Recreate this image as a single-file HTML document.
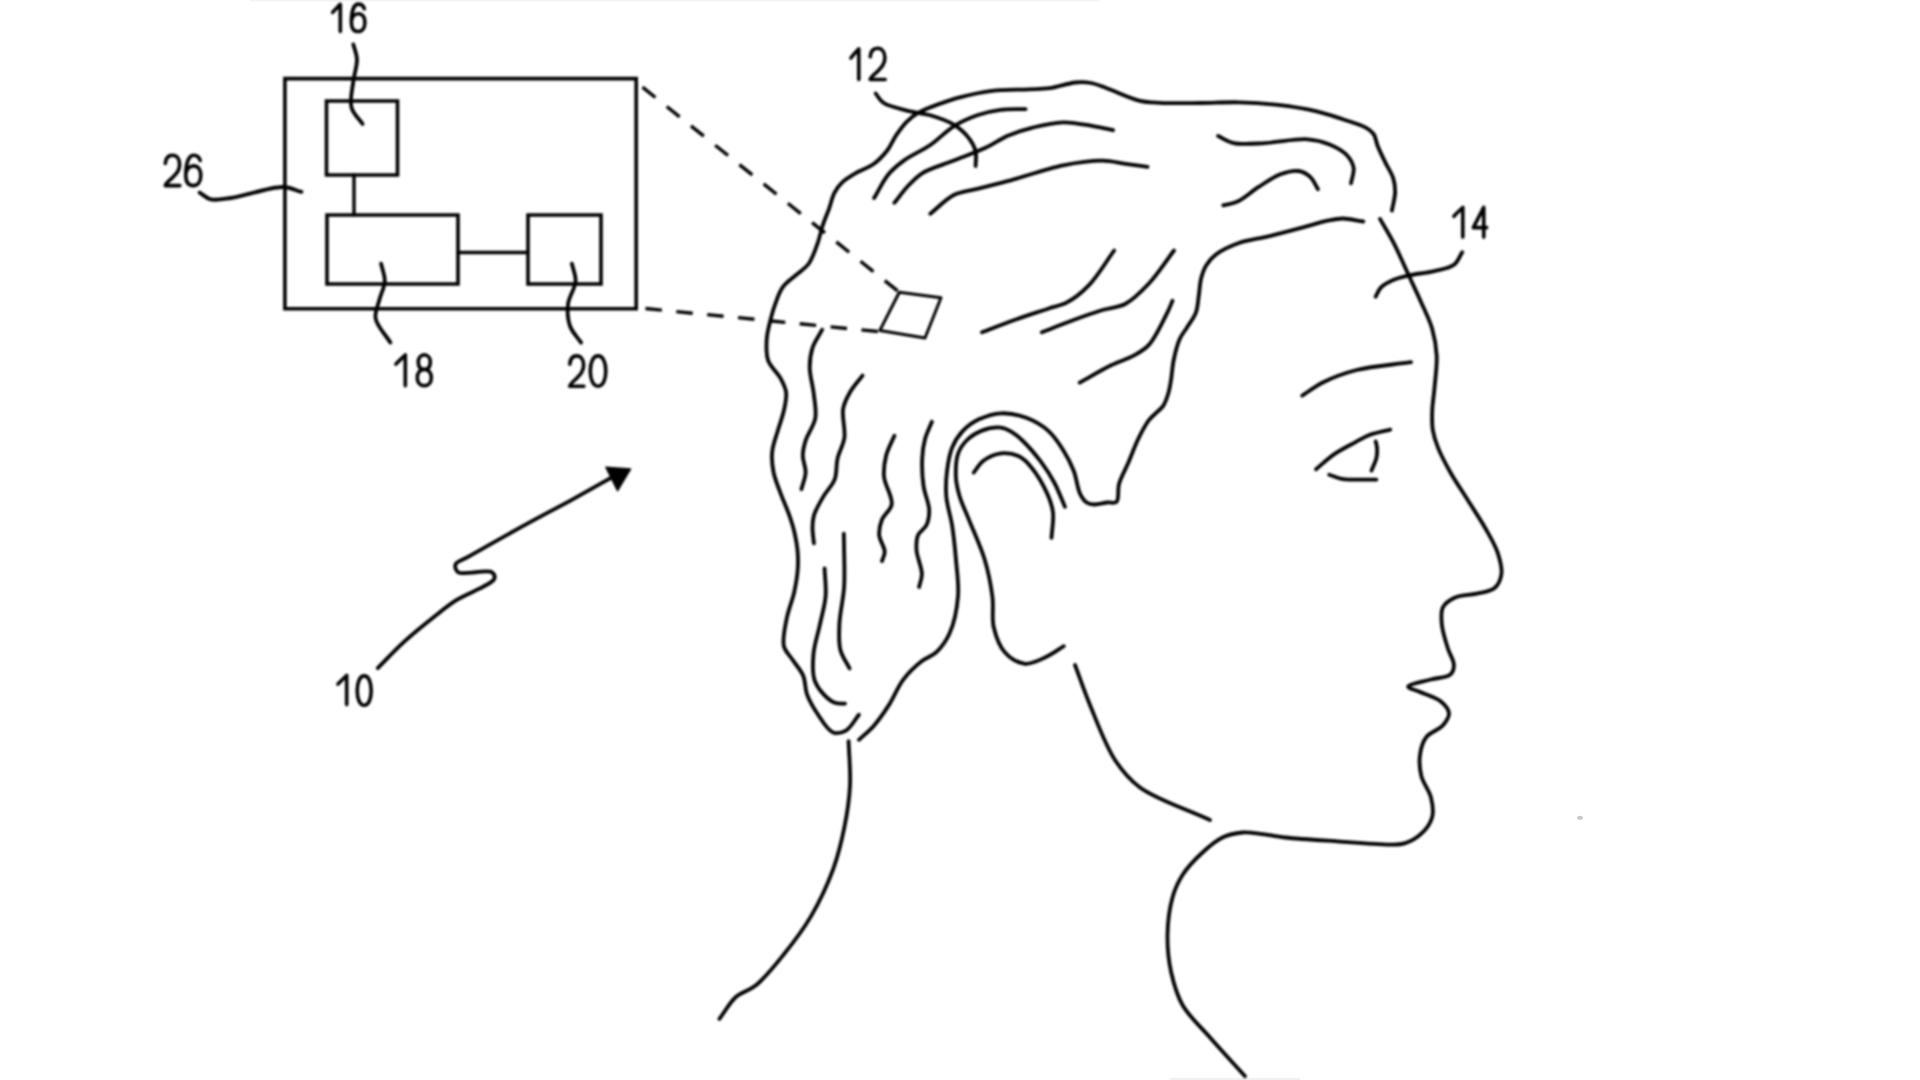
<!DOCTYPE html>
<html><head><meta charset="utf-8"><style>
html,body{margin:0;padding:0;background:#fff;width:1920px;height:1080px;overflow:hidden}
svg{display:block}
body{font-family:"Liberation Sans",sans-serif}

</style></head><body>
<svg width="1920" height="1080" viewBox="0 0 1920 1080">
<defs><filter id="bl" x="-5%" y="-5%" width="110%" height="110%"><feGaussianBlur stdDeviation="1.0"/></filter></defs>
<rect x="0" y="0" width="1920" height="1080" fill="#fff"/>
<rect x="250" y="0" width="850" height="1.5" fill="#f3f3f3"/><rect x="1170" y="1078" width="130" height="2" fill="#f0f0f0"/><ellipse cx="1580" cy="817.7" rx="3" ry="2" fill="#c8c8c8"/>
<g filter="url(#bl)">
<g fill="none" stroke="#000" stroke-linecap="round" stroke-linejoin="round">
<path d="M284.9 78.6L636.2 78.6L636.2 308.7L284.9 308.7Z" stroke-width="3.6" stroke-linejoin="miter"/>
<path d="M326.5 101.0L397.5 101.0L397.5 175.0L326.5 175.0Z" stroke-width="3.6" stroke-linejoin="miter"/>
<path d="M354.0 175.0L354.0 215.0" stroke-width="3.4" />
<path d="M327.0 215.0L458.0 215.0L458.0 284.0L327.0 284.0Z" stroke-width="3.6" stroke-linejoin="miter"/>
<path d="M528.0 215.0L601.0 215.0L601.0 284.0L528.0 284.0Z" stroke-width="3.6" stroke-linejoin="miter"/>
<path d="M458.0 252.5L528.0 252.5" stroke-width="3.4" />
<path d="M353.3 44.4C354.5 49.3 356.8 53.6 357.0 59.0C357.3 65.7 354.2 73.7 353.3 81.5C352.3 89.8 349.5 100.0 351.5 107.4C353.2 113.9 358.9 118.5 362.6 124.0" stroke-width="3.8" />
<path d="M199.6 192.6C203.3 194.8 206.2 198.2 210.7 199.3C216.3 200.7 222.7 199.1 231.0 198.0C244.4 196.2 270.1 186.7 283.0 187.0C290.8 187.2 295.3 190.3 301.5 191.9" stroke-width="3.8" />
<path d="M381.1 263.7C382.3 269.6 385.1 275.5 384.8 281.5C384.5 287.6 380.8 293.8 379.3 300.0C377.8 306.1 374.5 312.2 375.6 318.5C377.0 326.3 385.5 334.6 390.4 342.6" stroke-width="3.8" />
<path d="M571.9 263.7C573.1 269.6 576.0 275.3 575.6 281.5C575.2 288.5 569.0 296.2 568.1 303.7C567.2 311.0 567.7 319.4 570.0 326.0C572.2 332.3 577.4 337.1 581.1 342.6" stroke-width="3.8" />
<path d="M642.5 87.2L899.0 292.0" stroke-width="3.4" stroke-dasharray="16.5 14.5" stroke-linecap="butt"/>
<path d="M637.0 307.7L880.0 331.7" stroke-width="3.4" stroke-dasharray="16.5 14.5" stroke-dashoffset="22.5" stroke-linecap="butt"/>
<path d="M899.3 292.2L941.0 297.8L925.0 338.0L879.9 330.4Z" stroke-width="3" />
<path d="M1391.9 210.6C1393.0 204.5 1395.0 198.1 1395.1 192.4C1395.2 187.4 1394.7 182.9 1393.2 178.2C1391.6 173.0 1388.0 167.9 1385.4 162.6C1382.8 157.1 1379.6 150.9 1377.6 145.7C1375.9 141.5 1375.8 137.2 1373.7 134.1C1371.8 131.3 1369.4 129.6 1365.9 127.6C1360.4 124.4 1350.6 121.8 1342.6 119.2C1334.2 116.4 1326.3 113.6 1316.7 111.4C1305.1 108.7 1290.8 106.4 1277.8 104.9C1264.9 103.4 1251.9 102.6 1238.9 102.3C1225.9 102.0 1213.1 102.9 1200.0 103.0C1186.8 103.1 1171.0 103.4 1160.0 102.8C1152.2 102.4 1147.4 102.5 1140.0 100.8C1130.2 98.5 1115.8 91.4 1106.7 88.2C1100.5 86.0 1096.3 83.9 1091.0 83.0C1085.9 82.1 1081.2 82.0 1075.4 82.5C1067.8 83.2 1057.6 87.1 1049.4 88.2C1042.1 89.2 1036.4 88.9 1028.5 89.3C1018.0 89.8 1003.6 89.4 992.0 90.8C981.1 92.1 970.3 94.6 960.8 97.1C952.6 99.2 945.2 101.8 938.1 104.4C931.5 106.8 924.8 109.1 919.4 112.2C914.6 114.9 910.7 117.9 906.9 121.6C902.8 125.6 899.2 130.8 895.9 135.6C892.8 140.3 891.1 145.4 887.6 150.0C883.7 155.0 878.5 160.6 873.3 164.3C868.5 167.8 862.9 169.1 857.8 172.0C852.5 175.1 846.3 178.6 842.2 182.4C838.8 185.6 836.5 188.8 834.4 192.8C832.0 197.3 831.1 203.0 829.2 208.3C827.2 213.8 824.7 219.4 822.8 225.2C820.8 231.1 819.8 237.1 817.6 243.3C815.2 250.0 812.4 258.6 808.5 264.0C805.2 268.5 800.9 270.7 796.8 274.4C792.3 278.5 786.2 282.3 782.6 287.4C779.0 292.4 777.0 299.2 775.0 304.7C773.2 309.5 772.1 313.5 770.8 318.6C769.3 324.8 767.1 332.4 766.7 339.4C766.3 346.3 765.9 353.9 768.1 360.3C770.4 366.9 777.5 372.5 780.6 378.3C783.2 383.1 785.4 387.2 786.1 392.2C786.8 397.7 785.3 403.9 784.0 410.0C782.6 416.7 779.8 423.8 777.8 430.8C775.8 437.7 772.9 444.7 772.2 451.7C771.5 458.6 772.2 465.7 773.6 472.5C775.0 479.5 778.1 486.4 780.6 493.3C783.2 500.3 786.5 507.4 788.9 514.2C791.1 520.4 793.0 526.2 794.4 532.2C795.8 538.1 796.9 544.0 797.5 550.0C798.1 556.1 798.2 561.9 797.8 568.5C797.3 576.0 795.9 584.5 794.1 592.6C792.2 601.1 788.4 609.6 786.7 618.5C785.0 627.5 782.2 639.0 783.9 646.3C785.2 651.7 789.2 654.7 792.2 659.3C795.6 664.5 800.8 670.0 803.3 675.9C805.7 681.7 804.8 688.3 807.0 694.4C809.5 701.2 813.8 708.5 818.1 714.8C822.4 721.1 827.6 730.3 833.0 732.4C837.1 733.9 842.0 732.8 845.9 730.6C850.8 727.8 854.6 720.1 858.9 714.8" stroke-width="3.8" />
<path d="M875.6 93.4C878.2 96.5 879.6 100.2 883.4 102.8C888.8 106.5 899.0 108.5 906.9 110.6C914.6 112.7 922.6 113.0 930.3 115.3C938.2 117.7 947.1 120.5 953.8 124.7C959.9 128.5 965.7 133.9 969.4 138.8C972.4 142.8 974.6 146.8 975.6 151.3C976.7 155.9 975.6 161.2 975.6 166.1" stroke-width="3.8" />
<path d="M1025.6 109.1C1017.3 109.3 1008.7 108.7 1000.6 109.8C992.6 110.8 984.9 112.6 977.2 115.3C969.3 118.1 961.3 121.6 953.8 126.3C945.7 131.3 938.6 139.3 930.3 145.0C921.9 150.8 911.3 155.1 903.8 160.6C897.6 165.1 892.8 169.0 888.1 174.7C882.8 181.2 878.8 190.3 874.1 198.1" stroke-width="3.8" />
<path d="M1113.1 130.2C1106.9 128.9 1101.5 127.5 1094.4 126.3C1085.3 124.8 1073.5 122.1 1063.1 122.3C1052.7 122.5 1041.5 125.4 1031.9 127.8C1023.4 129.9 1016.1 132.3 1008.4 135.6C1000.4 139.0 993.5 144.2 985.0 148.1C975.5 152.5 964.2 156.4 953.8 160.6C943.4 164.8 930.8 167.9 922.5 173.1C916.0 177.2 911.6 182.2 906.9 187.2C902.3 192.1 898.6 197.6 894.4 202.8" stroke-width="3.8" />
<path d="M1147.5 166.9C1140.2 165.9 1133.0 164.8 1125.6 163.8C1117.9 162.7 1111.0 160.7 1102.2 160.6C1090.8 160.5 1077.1 162.5 1063.1 165.3C1046.3 168.7 1024.1 176.7 1008.4 180.9C996.6 184.1 986.8 186.3 977.2 188.8C968.8 191.0 961.2 191.3 953.8 195.0C945.5 199.2 938.1 207.5 930.3 213.8" stroke-width="3.8" />
<path d="M1218.1 136.0C1223.3 138.4 1227.4 141.7 1233.7 143.1C1242.1 144.9 1253.6 143.6 1264.8 143.1C1277.9 142.5 1295.7 138.5 1307.6 139.3C1316.2 139.9 1322.9 141.7 1329.6 144.4C1335.8 147.0 1342.4 150.5 1346.5 154.8C1350.0 158.5 1352.8 163.1 1353.6 167.8C1354.4 172.6 1351.9 178.1 1351.0 183.3" stroke-width="3.8" />
<path d="M1223.3 205.4C1228.1 204.1 1232.6 203.8 1237.6 201.5C1244.1 198.5 1251.2 191.7 1258.3 187.2C1265.5 182.6 1273.2 177.0 1280.4 174.3C1286.5 172.0 1293.2 170.2 1298.5 171.0C1302.9 171.6 1307.0 174.0 1310.2 176.9C1313.6 180.0 1315.4 185.1 1318.0 189.2" stroke-width="3.8" />
<path d="M1363.3 221.5C1356.4 220.5 1348.8 218.5 1342.5 218.5C1337.1 218.5 1333.1 219.6 1327.7 220.7C1321.0 222.1 1313.8 224.5 1305.5 226.7C1294.7 229.6 1280.2 233.5 1268.5 236.3C1258.1 238.8 1247.9 239.8 1238.9 243.0C1230.8 245.9 1222.3 249.8 1216.6 254.1C1212.1 257.4 1208.9 261.1 1206.3 265.2C1203.8 269.2 1202.3 273.8 1201.1 278.5C1199.8 283.6 1199.7 289.3 1198.9 294.8C1198.0 300.6 1197.9 307.1 1195.9 312.6C1193.9 318.0 1189.9 322.8 1187.0 327.4C1184.4 331.6 1181.7 334.5 1179.6 339.2C1177.0 345.0 1175.1 353.1 1173.7 360.0C1172.3 366.7 1172.0 374.1 1171.0 380.0C1170.2 384.8 1169.7 388.7 1168.4 393.0C1167.1 397.4 1165.4 402.5 1163.2 405.9C1161.4 408.7 1159.0 410.1 1156.7 412.4C1154.2 414.9 1151.5 416.8 1148.9 420.2C1145.4 424.8 1141.8 431.7 1138.5 438.3C1134.8 445.8 1131.6 455.1 1128.2 463.0C1125.1 470.2 1121.0 476.9 1119.1 483.7C1117.3 489.8 1119.4 499.2 1116.5 501.9C1114.5 503.8 1110.7 502.1 1107.4 502.5C1103.5 502.9 1098.2 504.7 1094.5 504.5C1091.6 504.4 1089.0 504.0 1086.7 502.5C1084.1 500.8 1082.1 497.8 1080.2 494.1C1077.4 488.5 1076.6 478.2 1073.7 470.8C1070.9 463.6 1067.5 456.9 1063.4 450.4C1059.2 443.7 1054.6 436.5 1048.6 431.1C1042.4 425.5 1034.2 420.8 1026.3 417.8C1018.4 414.9 1009.2 412.9 1001.1 413.3C993.4 413.6 985.5 416.2 978.9 419.3C972.7 422.2 967.1 426.4 962.6 431.1C958.2 435.8 954.8 441.2 952.2 447.4C949.3 454.3 948.0 463.0 947.0 471.1C946.0 479.3 945.6 487.6 946.3 496.3C947.1 505.8 950.6 515.7 952.2 526.0C953.9 536.9 955.0 548.5 956.0 560.0C957.0 571.9 959.0 584.2 958.0 596.3C957.0 608.6 954.0 623.4 949.6 633.3C946.2 640.9 941.7 647.1 936.7 651.9C932.3 656.1 926.9 657.2 921.9 661.1C915.8 665.9 908.7 672.5 903.3 679.6C897.5 687.2 893.7 697.6 888.5 705.6C883.8 712.9 878.9 720.0 873.7 725.9C869.0 731.2 863.8 735.2 858.9 739.8" stroke-width="3.8" />
<path d="M1380.0 218.9C1384.8 227.4 1389.9 235.5 1394.4 244.4C1399.1 253.6 1403.3 263.7 1407.8 273.3C1412.2 282.9 1416.9 292.7 1421.1 302.2C1425.1 311.2 1429.6 319.8 1432.2 328.9C1434.7 337.7 1436.2 346.2 1436.7 355.6C1437.2 366.1 1435.2 378.9 1434.4 388.9C1433.7 397.1 1432.4 404.0 1432.2 411.1C1432.0 417.6 1431.8 423.9 1432.8 430.0C1433.8 436.0 1435.5 441.4 1438.0 447.6C1441.0 455.2 1445.6 463.8 1450.3 472.2C1455.5 481.4 1462.0 490.9 1467.9 500.3C1473.8 509.7 1480.3 519.3 1485.5 528.5C1490.2 536.9 1495.2 545.0 1497.8 553.1C1500.1 560.2 1502.3 568.0 1501.4 574.2C1500.6 579.5 1498.1 585.1 1494.3 588.3C1490.2 591.8 1482.9 592.1 1476.7 593.6C1469.9 595.2 1461.0 594.8 1455.1 597.5C1450.1 599.8 1445.2 602.9 1443.0 607.2C1440.6 611.7 1441.3 618.0 1441.8 624.1C1442.4 631.5 1445.6 640.9 1447.8 648.2C1449.7 654.4 1454.0 660.3 1453.9 665.1C1453.9 668.8 1452.8 672.4 1450.2 674.7C1446.5 677.9 1437.7 677.6 1431.0 679.5C1423.7 681.6 1408.2 684.3 1408.1 686.7C1408.0 688.4 1414.7 689.7 1418.9 691.6C1424.9 694.3 1435.4 696.9 1440.6 701.2C1444.7 704.6 1448.7 709.2 1449.0 713.3C1449.3 717.2 1446.1 721.6 1443.0 725.3C1439.1 729.8 1429.9 732.2 1426.1 737.3C1422.5 742.0 1421.0 748.1 1420.1 754.2C1419.1 760.9 1419.6 768.8 1421.3 775.9C1423.1 783.3 1429.2 790.4 1431.0 797.6C1432.6 804.1 1433.8 810.9 1432.2 816.9C1430.6 823.0 1426.0 829.3 1421.3 833.7C1416.7 838.1 1410.1 841.7 1404.5 843.4C1399.7 844.9 1396.4 844.5 1390.0 844.6C1377.6 844.7 1352.9 842.5 1335.0 841.2C1317.9 840.1 1298.8 839.0 1285.0 837.5C1275.2 836.4 1267.6 834.6 1260.0 833.8C1253.7 833.0 1248.5 832.0 1242.5 832.5C1236.0 833.1 1228.9 834.5 1222.5 837.5C1215.5 840.8 1208.9 846.6 1202.5 852.5C1195.5 858.9 1187.6 867.1 1182.5 875.0C1177.9 882.2 1174.9 888.8 1172.5 897.5C1169.5 908.2 1167.7 922.5 1167.5 935.0C1167.3 947.5 1168.6 960.6 1171.2 972.5C1173.8 983.9 1176.6 994.7 1182.5 1005.0C1189.0 1016.5 1200.2 1026.3 1210.0 1037.5C1220.9 1049.9 1233.3 1063.3 1245.0 1076.2" stroke-width="3.8" />
<path d="M1302.2 395.6C1309.2 391.1 1315.2 386.2 1323.3 382.2C1332.9 377.4 1344.0 373.2 1356.7 370.0C1372.5 366.0 1393.0 364.8 1411.1 362.2" stroke-width="3.8" />
<path d="M1316.0 469.2C1322.2 464.1 1328.1 458.4 1334.7 453.9C1341.3 449.4 1349.3 445.5 1355.6 442.1C1360.6 439.4 1364.2 437.1 1369.4 435.1C1375.5 432.8 1383.3 431.4 1390.3 429.6" stroke-width="3.8" />
<path d="M1329.2 474.7C1333.4 476.1 1337.7 478.1 1341.7 478.9C1345.3 479.6 1347.9 479.5 1352.1 479.6C1358.5 479.8 1368.3 479.6 1376.4 479.6" stroke-width="3.8" />
<path d="M1375.7 441.4C1376.2 443.7 1376.9 445.8 1377.1 448.3C1377.3 451.3 1377.2 454.7 1376.4 458.1C1375.5 462.1 1373.1 466.4 1371.5 470.6" stroke-width="3.8" />
<path d="M1462.2 252.2C1459.6 256.3 1458.3 261.3 1454.4 264.4C1449.7 268.1 1441.6 269.3 1434.4 271.1C1426.2 273.1 1415.5 273.8 1407.8 275.6C1401.8 277.0 1396.7 278.4 1392.0 280.5C1387.9 282.4 1383.8 284.5 1381.0 287.4C1378.5 290.0 1377.4 293.6 1375.6 296.7" stroke-width="3.8" />
<path d="M1114.2 250.5C1105.8 262.0 1097.8 276.0 1089.0 285.1C1081.9 292.5 1074.4 298.4 1067.0 302.4C1060.8 305.8 1055.3 306.3 1048.1 308.7C1038.6 311.9 1026.1 315.8 1015.1 319.7C1004.0 323.6 993.0 328.1 982.0 332.3" stroke-width="3.8" />
<path d="M1174.0 250.5C1165.6 261.5 1157.7 274.2 1148.9 283.5C1141.3 291.6 1133.6 299.5 1125.2 304.0C1117.8 307.9 1110.0 307.7 1101.6 310.3C1091.8 313.3 1080.4 317.5 1070.2 321.3C1060.5 324.9 1051.3 328.6 1041.8 332.3" stroke-width="3.8" />
<path d="M1172.5 300.8C1170.9 304.5 1170.0 307.2 1167.7 311.8C1163.6 319.9 1155.8 337.3 1148.9 344.9C1144.0 350.3 1139.0 352.6 1133.1 355.9C1126.5 359.5 1119.0 361.4 1111.1 365.3C1101.4 370.0 1090.1 376.9 1079.6 382.7" stroke-width="3.8" />
<path d="M822.2 329.7C819.0 335.7 814.6 341.5 812.5 347.8C810.5 354.0 809.7 360.2 809.7 367.2C809.7 375.6 813.0 386.1 813.9 395.0C814.8 403.1 816.6 410.8 815.3 418.3C813.9 426.0 807.7 433.8 805.6 440.6C803.9 446.0 802.8 450.6 802.8 455.8C802.8 461.2 805.8 467.0 805.6 472.5C805.4 478.1 802.8 483.6 801.4 489.2" stroke-width="3.8" />
<path d="M862.5 375.6C858.3 381.1 853.3 386.4 850.0 392.2C846.9 397.6 844.2 402.4 843.1 408.9C841.7 417.1 845.6 429.1 844.4 437.8C843.3 445.4 839.1 451.6 837.5 458.6C835.9 465.5 837.1 473.1 834.7 479.4C832.4 485.6 827.0 490.2 823.6 496.1C820.0 502.2 815.6 509.7 813.9 515.6C812.6 520.1 812.5 523.7 812.5 528.1C812.5 532.9 813.4 538.2 813.9 543.3" stroke-width="3.8" />
<path d="M894.4 435.7C891.6 442.4 887.8 448.9 886.1 455.8C884.4 462.6 883.4 469.3 884.0 476.7C884.7 485.3 892.9 496.7 891.7 504.4C890.8 510.5 884.0 514.4 881.9 519.7C880.0 524.6 878.8 529.8 879.2 535.0C879.6 540.5 884.6 546.9 884.7 551.7C884.8 555.3 882.9 558.0 882.0 561.1" stroke-width="3.8" />
<path d="M931.9 421.8C929.6 427.6 926.6 433.1 925.0 439.2C923.3 445.4 922.5 451.5 922.2 458.6C921.8 467.0 922.3 477.6 923.6 486.4C924.8 494.6 929.0 503.0 929.2 510.0C929.3 515.6 928.4 521.0 926.4 525.3C924.5 529.2 919.8 531.1 918.1 535.0C916.3 539.2 916.2 544.4 916.5 550.0C916.9 557.1 921.9 567.3 921.9 574.1C921.9 579.1 920.0 582.7 919.1 587.0" stroke-width="3.8" />
<path d="M843.8 533.6C843.9 539.1 844.0 543.4 844.1 550.0C844.2 559.9 844.9 574.7 844.1 587.0C843.3 599.4 839.9 612.8 839.4 624.1C839.0 633.5 838.4 642.3 840.4 650.0C842.2 656.9 846.5 662.3 849.6 668.5" stroke-width="3.8" />
<path d="M824.6 568.5C824.9 577.8 826.4 587.1 825.6 596.3C824.8 605.6 822.0 614.7 820.0 624.1C818.0 633.8 814.4 644.1 813.5 653.7C812.7 662.6 812.2 672.4 814.4 679.6C816.2 685.5 820.0 690.4 823.7 694.4C827.0 698.0 831.0 701.3 834.8 702.8C838.1 704.1 841.6 703.4 845.0 703.7" stroke-width="3.8" />
<path d="M1064.9 506.7C1061.4 498.8 1058.5 490.5 1054.5 483.0C1050.6 475.7 1046.3 469.1 1041.2 462.2C1035.6 454.7 1027.6 445.4 1021.9 440.0C1018.1 436.4 1015.1 434.0 1011.5 431.9C1008.2 430.0 1005.2 428.1 1001.1 427.6C995.7 427.0 987.7 428.4 981.9 430.6C976.4 432.7 971.1 436.1 967.1 440.0C963.3 443.7 960.1 448.0 958.2 453.4C955.9 459.9 955.6 469.6 955.9 477.1C956.2 483.9 957.7 489.8 959.6 496.3C961.7 503.6 965.1 510.0 968.5 518.6C973.1 530.3 980.7 546.4 984.8 560.0C988.6 572.6 991.0 585.6 992.5 597.5C993.8 608.0 991.5 618.2 993.8 627.5C995.9 636.4 999.4 646.4 1005.0 652.5C1010.1 658.1 1018.2 663.0 1025.0 663.8C1031.5 664.4 1038.6 660.4 1045.0 657.5C1051.5 654.6 1057.5 650.0 1063.8 646.2" stroke-width="3.8" />
<path d="M973.7 472.6C976.9 468.7 979.2 463.9 983.4 460.8C988.1 457.3 995.1 454.1 1001.1 453.4C1006.9 452.7 1013.8 453.9 1018.9 456.3C1023.6 458.5 1026.9 462.0 1030.8 466.7C1036.3 473.2 1043.3 485.0 1047.1 493.4C1050.1 500.1 1052.2 505.7 1053.0 512.6C1053.9 520.4 1052.0 529.4 1051.5 537.8" stroke-width="3.8" />
<path d="M848.6 741.1C849.1 755.9 850.7 771.0 850.0 785.6C849.3 799.7 847.2 813.4 844.4 827.2C841.6 841.2 838.4 854.8 833.3 868.9C827.6 884.4 819.7 901.5 811.1 916.1C802.9 930.1 792.9 943.1 783.3 955.0C774.4 966.1 764.6 978.4 755.6 985.6C749.0 990.9 741.9 991.6 736.1 996.7C729.7 1002.4 725.0 1011.5 719.4 1018.9" stroke-width="3.8" />
<path d="M1075.0 665.0C1080.0 678.3 1084.1 690.7 1090.0 705.0C1097.0 722.0 1105.4 745.4 1115.0 760.0C1122.5 771.5 1128.4 779.0 1140.0 787.5C1156.6 799.7 1186.7 809.2 1210.0 820.0" stroke-width="3.8" />
<path d="M377.8 668.1C386.4 659.5 394.5 650.6 403.7 642.2C413.4 633.3 425.4 623.7 434.8 616.3C442.3 610.3 447.3 606.1 455.5 600.7C466.2 593.7 492.3 584.7 494.4 578.7C495.2 576.3 494.0 573.7 491.8 572.2C487.0 568.9 463.0 575.7 458.1 572.2C455.7 570.5 454.6 566.7 455.5 564.4C456.7 561.3 462.5 560.2 468.5 556.7C481.8 549.0 514.4 530.7 533.3 520.4C547.9 512.4 559.1 506.8 572.2 499.6C585.8 492.1 599.9 484.1 613.7 476.3" stroke-width="3.8" />
</g>
<path d="M605.9 467.2L630.5 469L617.6 490.6Z" fill="#000" stroke="#000" stroke-width="1.5" stroke-linejoin="round"/>
<g>
<path d="M332.60 12.47 C335.29 9.21 338.38 6.48 340.30 4.30 L340.30 31.55" fill="none" stroke="#000" stroke-width="3.6" stroke-linecap="round" stroke-linejoin="round"/>
<path d="M364.36 8.77 C363.28 5.47 361.12 4.10 358.42 4.10 C353.43 4.10 351.40 12.88 351.40 22.22 C351.40 28.80 354.10 31.55 358.15 31.55 C362.20 31.55 364.90 28.26 364.90 22.22 C364.90 16.73 362.20 13.71 358.42 13.71 C354.77 13.71 352.21 16.73 351.53 20.57" fill="none" stroke="#000" stroke-width="3.6" stroke-linecap="round" stroke-linejoin="round"/>
<path d="M165.35 163.48 C165.80 157.72 168.80 155.30 172.40 155.30 C176.90 155.30 179.60 159.24 179.60 164.39 C179.60 170.45 176.60 173.48 172.40 177.72 C168.20 181.36 165.20 183.78 165.20 185.60 L179.90 185.60" fill="none" stroke="#000" stroke-width="3.6" stroke-linecap="round" stroke-linejoin="round"/>
<path d="M200.20 160.45 C199.00 156.81 196.60 155.30 193.60 155.30 C188.05 155.30 185.80 165.00 185.80 175.30 C185.80 182.57 188.80 185.60 193.30 185.60 C197.80 185.60 200.80 181.96 200.80 175.30 C200.80 169.24 197.80 165.91 193.60 165.91 C189.55 165.91 186.70 169.24 185.95 173.48" fill="none" stroke="#000" stroke-width="3.6" stroke-linecap="round" stroke-linejoin="round"/>
<path d="M395.90 364.14 C399.19 360.44 402.95 357.36 405.30 354.90 L405.30 385.70" fill="none" stroke="#000" stroke-width="3.6" stroke-linecap="round" stroke-linejoin="round"/>
<path d="M424.30 369.38 C420.10 369.38 418.28 366.30 418.28 361.98 C418.28 357.67 420.80 354.90 424.30 354.90 C427.80 354.90 430.32 357.67 430.32 361.98 C430.32 366.30 428.50 369.38 424.30 369.38 C420.10 369.38 417.30 372.76 417.30 377.69 C417.30 382.62 420.10 385.70 424.30 385.70 C428.50 385.70 431.30 382.62 431.30 377.69 C431.30 372.76 428.50 369.38 424.30 369.38 Z" fill="none" stroke="#000" stroke-width="3.6" stroke-linecap="round" stroke-linejoin="round"/>
<path d="M569.84 364.08 C570.27 358.32 573.17 355.90 576.65 355.90 C581.00 355.90 583.61 359.84 583.61 364.99 C583.61 371.05 580.71 374.08 576.65 378.32 C572.59 381.96 569.69 384.38 569.69 386.20 L583.90 386.20" fill="none" stroke="#000" stroke-width="3.6" stroke-linecap="round" stroke-linejoin="round"/>
<path d="M598.05 355.90 C603.01 355.90 605.80 362.57 605.80 371.05 C605.80 379.53 603.01 386.20 598.05 386.20 C593.09 386.20 590.30 379.53 590.30 371.05 C590.30 362.57 593.09 355.90 598.05 355.90 Z" fill="none" stroke="#000" stroke-width="3.6" stroke-linecap="round" stroke-linejoin="round"/>
<path d="M850.90 58.03 C853.67 54.34 856.83 51.26 858.80 48.80 L858.80 79.55" fill="none" stroke="#000" stroke-width="3.6" stroke-linecap="round" stroke-linejoin="round"/>
<path d="M870.26 56.74 C870.72 50.80 873.80 48.30 877.50 48.30 C882.12 48.30 884.89 52.36 884.89 57.68 C884.89 63.92 881.81 67.05 877.50 71.42 C873.19 75.17 870.11 77.67 870.11 79.55 L885.20 79.55" fill="none" stroke="#000" stroke-width="3.6" stroke-linecap="round" stroke-linejoin="round"/>
<path d="M1453.90 216.31 C1457.02 212.75 1460.58 209.78 1462.80 207.40 L1462.80 237.10" fill="none" stroke="#000" stroke-width="3.6" stroke-linecap="round" stroke-linejoin="round"/>
<path d="M1483.75 237.10 L1483.75 207.40 L1473.30 227.60 L1486.70 227.60" fill="none" stroke="#000" stroke-width="3.6" stroke-linecap="round" stroke-linejoin="round"/>
<path d="M337.90 684.16 C340.98 680.66 344.50 677.74 346.70 675.40 L346.70 704.60" fill="none" stroke="#000" stroke-width="3.6" stroke-linecap="round" stroke-linejoin="round"/>
<path d="M364.20 675.90 C368.68 675.90 371.20 682.35 371.20 690.55 C371.20 698.75 368.68 705.20 364.20 705.20 C359.72 705.20 357.20 698.75 357.20 690.55 C357.20 682.35 359.72 675.90 364.20 675.90 Z" fill="none" stroke="#000" stroke-width="3.6" stroke-linecap="round" stroke-linejoin="round"/>
</g>
</g>
</svg>
</body></html>
